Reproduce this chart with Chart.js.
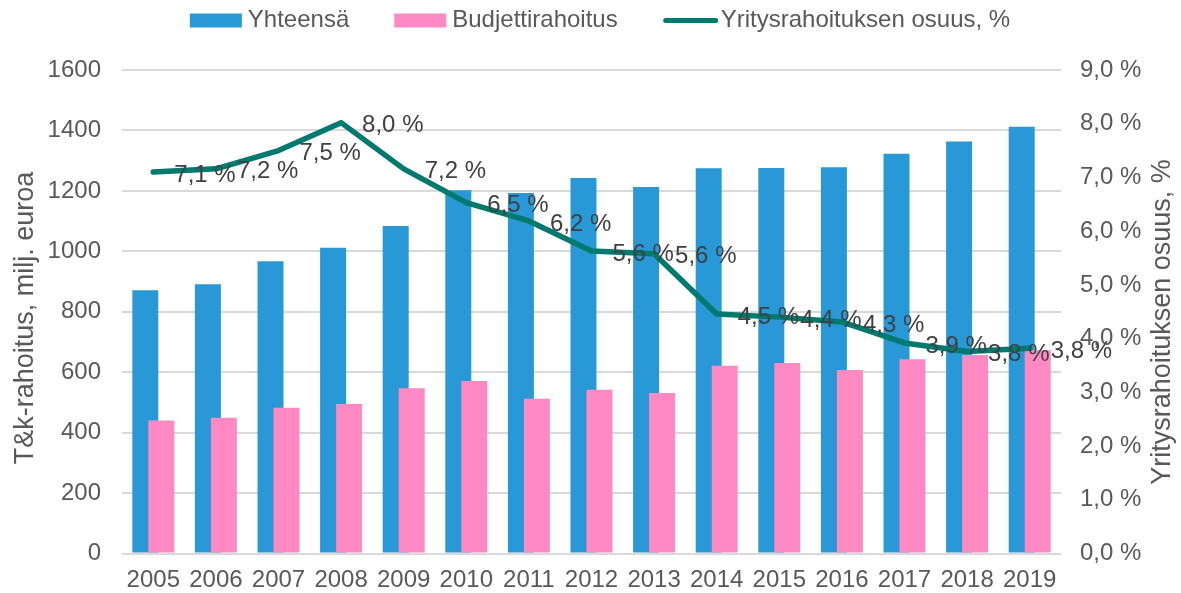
<!DOCTYPE html>
<html>
<head>
<meta charset="utf-8">
<script src="https://cdn.jsdelivr.net/npm/chart.js@4/dist/chart.umd.min.js"></script>
<style>
html,body{margin:0;padding:0;background:#ffffff;}
#wrap{width:1181px;height:593px;position:relative;}
</style>
</head>
<body>
<div id="wrap"><canvas id="c" width="1181" height="593"></canvas></div>
<script>
// ---- Data ----
const years = ['2005','2006','2007','2008','2009','2010','2011','2012','2013','2014','2015','2016','2017','2018','2019'];
const yhteensa = [871, 891, 967, 1012, 1084, 1202, 1193, 1243, 1213, 1275, 1276, 1278, 1323, 1363, 1412];
const budjettirahoitus = [440, 449, 482, 495, 547, 571, 512, 542, 531, 621, 630, 607, 643, 657, 673];
const yritysOsuus = [7.1, 7.16, 7.5, 8.02, 7.16, 6.53, 6.19, 5.63, 5.58, 4.46, 4.4, 4.31, 3.92, 3.76, 3.82];
const seriesNames = ['Yhteensä', 'Budjettirahoitus', 'Yritysrahoituksen osuus, %'];
const leftAxisTitle = 'T&k-rahoitus, milj. euroa';
const rightAxisTitle = 'Yritysrahoituksen osuus, %';
const leftMax = 1600, leftStep = 200;
const rightMax = 9, rightStep = 1;

// ---- Styles ----
const FONT = '"Liberation Sans", Arial, sans-serif';
const C_BLUE = '#2898d6';
const C_PINK = '#ff89c3';
const C_TEAL = '#00796e';
const C_TICK = '#595959';
const C_LABEL = '#404040';
const C_GRID = '#d9d9d9';

const fmtPct = v => v.toFixed(1).replace('.', ',') + ' %';

// draw pink bars above blue bars while keeping blue on the left of each group
const drawOrderPlugin = {
  id: 'drawOrder',
  beforeDatasetDraw(chart, args) {
    if (args.index === 1) {
      chart.getDatasetMeta(0).controller.draw();
    }
    if (args.index === 0) return false;
  }
};

const dataLabelPlugin = {
  id: 'lineLabels',
  afterDatasetsDraw(chart) {
    const meta = chart.getDatasetMeta(2);
    const ctx = chart.ctx;
    ctx.save();
    ctx.font = '24px ' + FONT;
    ctx.fillStyle = C_LABEL;
    ctx.textAlign = 'left';
    ctx.textBaseline = 'middle';
    meta.data.forEach((pt, i) => {
      ctx.fillText(fmtPct(chart.data.datasets[2].data[i]), pt.x + 21, pt.y + 3);
    });
    ctx.restore();
  }
};

const legendAndTitlesPlugin = {
  id: 'legendTitles',
  afterDraw(chart) {
    const ctx = chart.ctx;
    ctx.save();
    // axis titles
    ctx.font = '27px ' + FONT;
    ctx.fillStyle = C_TICK;
    ctx.textAlign = 'center';
    ctx.textBaseline = 'middle';
    ctx.save();
    ctx.translate(26, 318);
    ctx.rotate(-Math.PI / 2);
    ctx.fillText(leftAxisTitle, 0, 0);
    ctx.restore();
    ctx.save();
    ctx.translate(1163, 322);
    ctx.rotate(-Math.PI / 2);
    ctx.fillText(rightAxisTitle, 0, 0);
    ctx.restore();

    // legend
    ctx.font = '24px ' + FONT;
    ctx.textAlign = 'left';
    ctx.textBaseline = 'middle';
    const boxW = 52, gapTxt = 6, itemGap = 45, cy = 20.5;
    const widths = seriesNames.map(n => boxW + gapTxt + ctx.measureText(n).width);
    const total = widths.reduce((a, b) => a + b, 0) + itemGap * (widths.length - 1);
    let x = 600 - total / 2;
    seriesNames.forEach((name, i) => {
      if (i < 2) {
        ctx.fillStyle = i === 0 ? C_BLUE : C_PINK;
        ctx.fillRect(x, cy - 7, boxW, 14);
      } else {
        ctx.strokeStyle = C_TEAL;
        ctx.lineWidth = 5;
        ctx.lineCap = 'round';
        ctx.beginPath();
        ctx.moveTo(x + 3, cy);
        ctx.lineTo(x + boxW + 1, cy);
        ctx.stroke();
      }
      ctx.fillStyle = C_TICK;
      ctx.fillText(name, x + boxW + gapTxt, cy);
      x += widths[i] + itemGap;
    });
    ctx.restore();
  }
};

new Chart(document.getElementById('c'), {
  type: 'bar',
  data: {
    labels: years,
    datasets: [
      {
        label: seriesNames[0], data: yhteensa, backgroundColor: C_BLUE, borderWidth: 0,
        yAxisID: 'y', order: 0, categoryPercentage: 0.511, barPercentage: 1.625
      },
      {
        label: seriesNames[1], data: budjettirahoitus, backgroundColor: C_PINK, borderWidth: 0,
        yAxisID: 'y', order: 0, categoryPercentage: 0.511, barPercentage: 1.625
      },
      {
        type: 'line', label: seriesNames[2], data: yritysOsuus, yAxisID: 'y1', order: -1,
        borderColor: C_TEAL, backgroundColor: C_TEAL, borderWidth: 5.5, pointRadius: 0,
        tension: 0, borderJoinStyle: 'round', borderCapStyle: 'round', fill: false
      }
    ]
  },
  options: {
    responsive: false,
    animation: false,
    events: [],
    layout: { padding: { top: 70, left: 0, right: 0, bottom: 0 } },
    plugins: { legend: { display: false }, tooltip: { enabled: false } },
    scales: {
      x: {
        grid: { display: false, drawTicks: false },
        border: { display: false },
        ticks: { color: C_TICK, font: { family: FONT, size: 24 }, padding: 12, maxRotation: 0, autoSkip: false },
        afterFit(s) { s.height = 39.5; }
      },
      y: {
        position: 'left', min: 0, max: leftMax,
        ticks: { stepSize: leftStep, color: C_TICK, font: { family: FONT, size: 24 }, padding: 21,
                 callback: v => String(v) },
        grid: { color: C_GRID, lineWidth: 2, drawTicks: false },
        border: { display: false },
        afterFit(s) { s.width = 122; }
      },
      y1: {
        position: 'right', min: 0, max: rightMax,
        ticks: { stepSize: rightStep, color: C_TICK, font: { family: FONT, size: 24 }, padding: 19,
                 callback: v => fmtPct(v) },
        grid: { drawOnChartArea: false, drawTicks: false },
        border: { display: false },
        afterFit(s) { s.width = 120; }
      }
    }
  },
  plugins: [drawOrderPlugin, dataLabelPlugin, legendAndTitlesPlugin]
});
</script>
</body>
</html>
